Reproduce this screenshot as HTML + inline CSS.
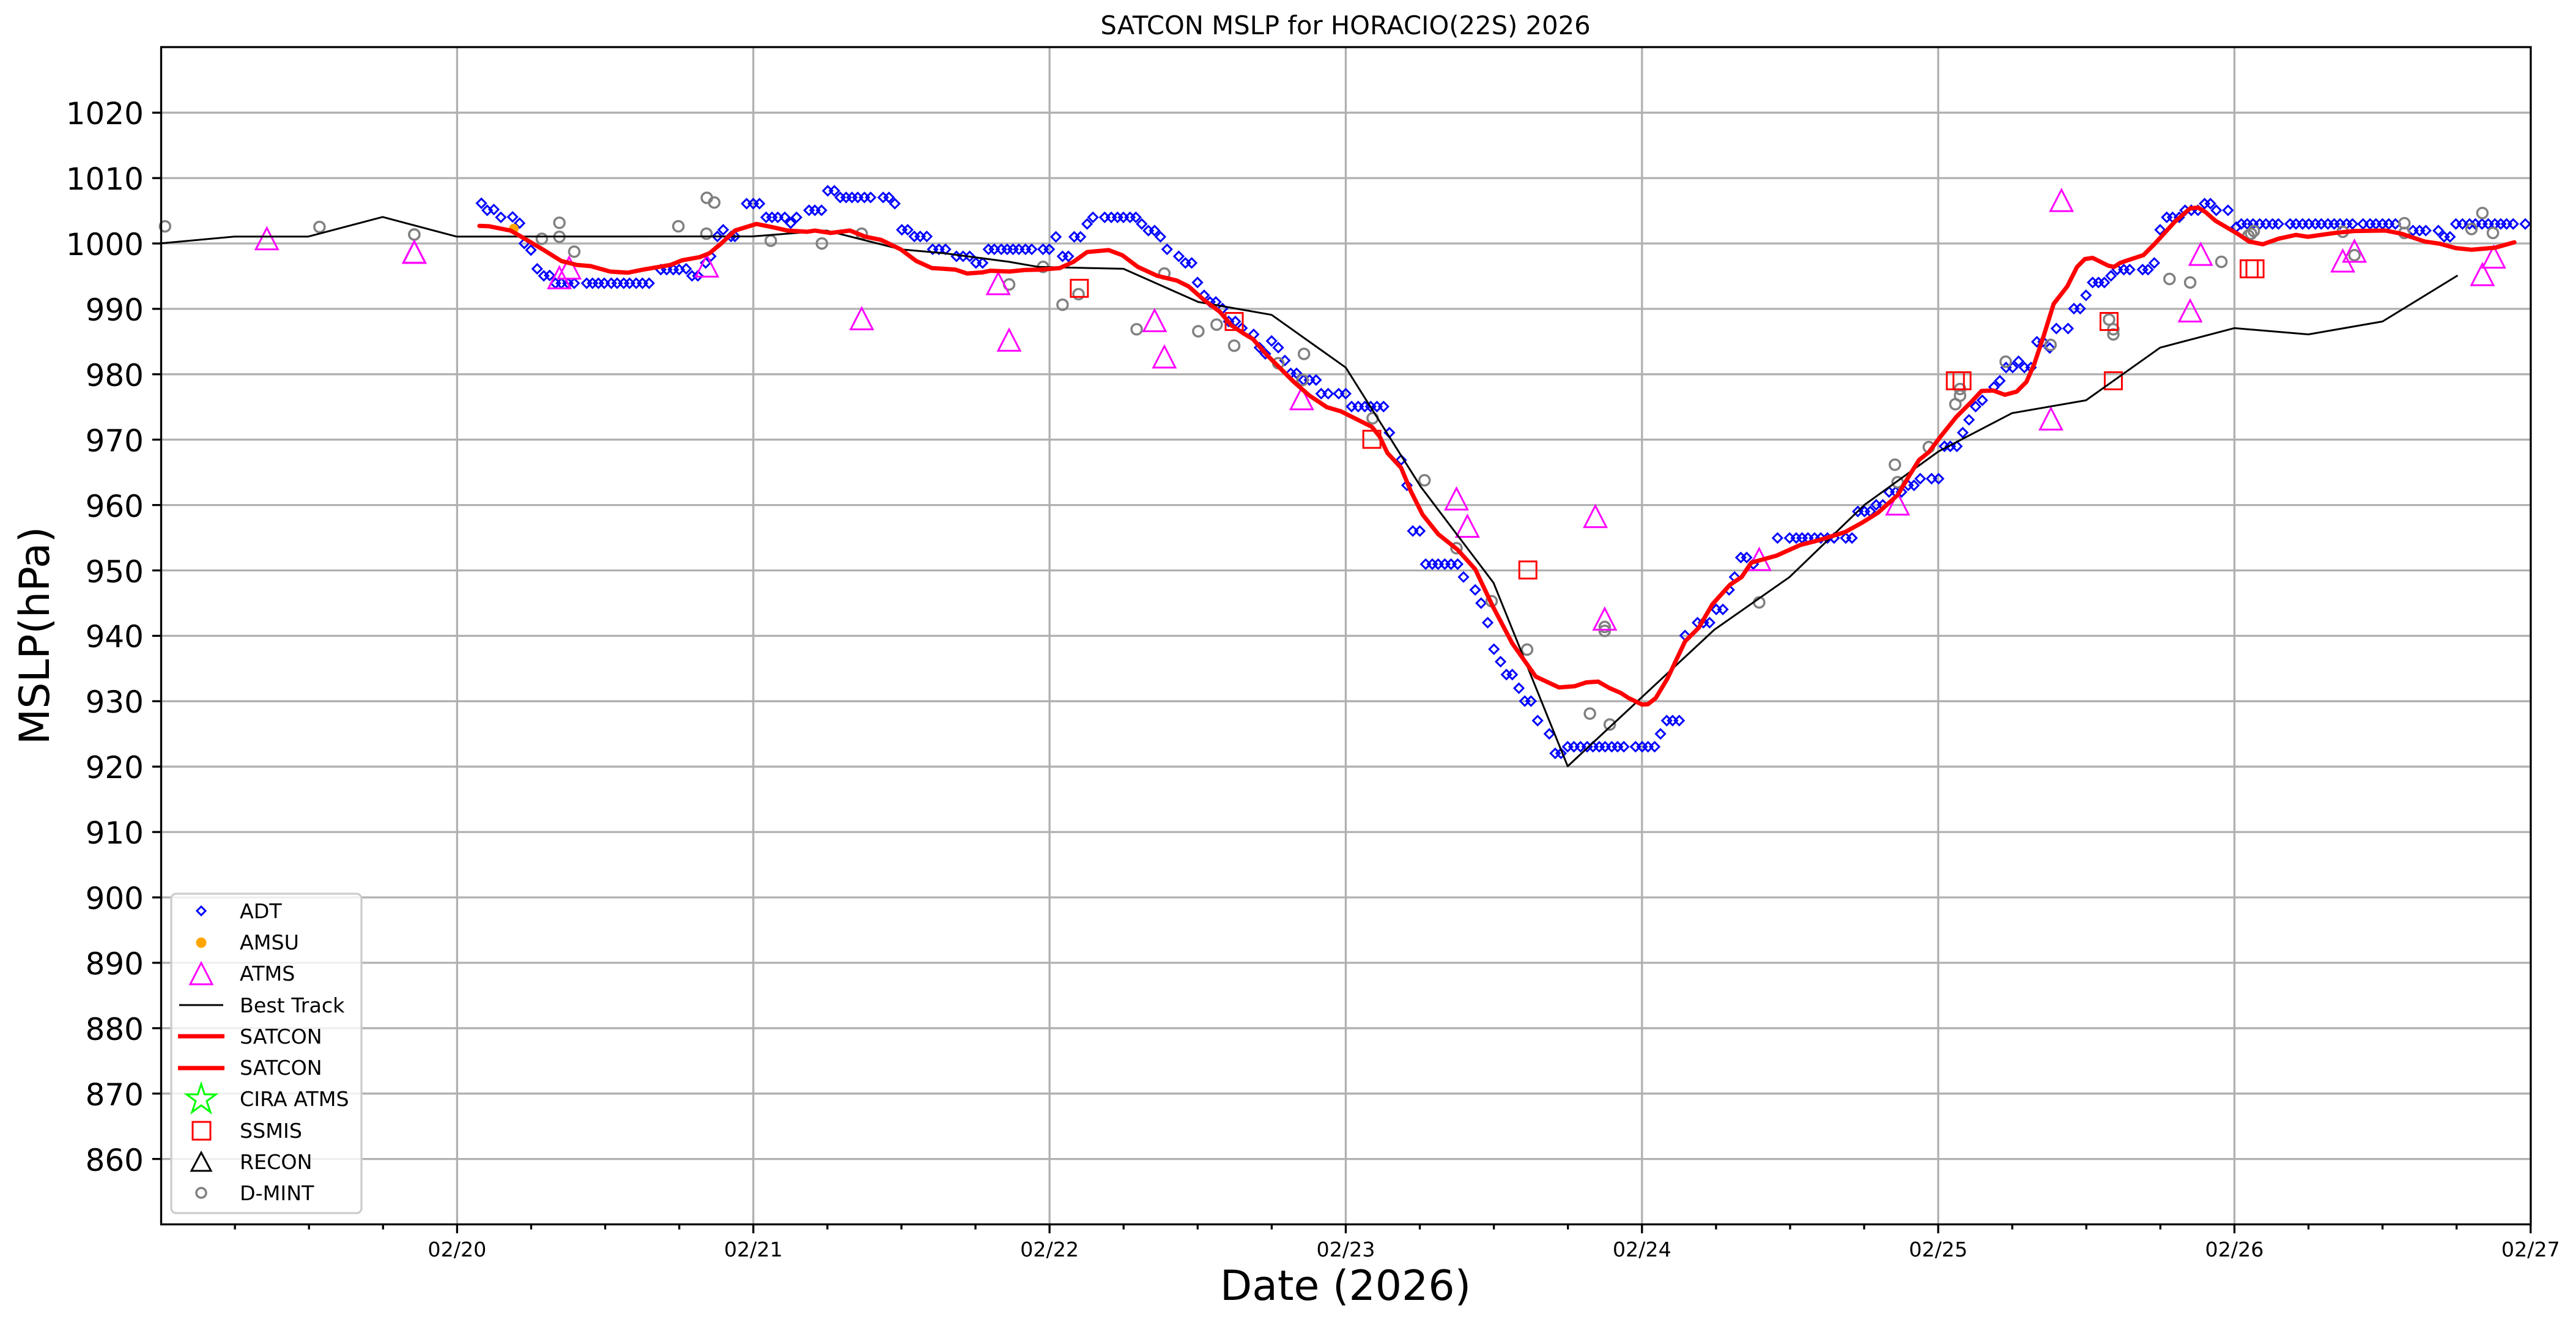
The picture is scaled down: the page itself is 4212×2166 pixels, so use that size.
<!DOCTYPE html>
<html><head><meta charset="utf-8"><style>
html,body{margin:0;padding:0;background:#fff;}
svg{display:block;font-family:"DejaVu Sans","Liberation Sans",sans-serif;}
</style></head><body>
<svg id="s" width="4212" height="2166" viewBox="0 0 4212 2166" xmlns="http://www.w3.org/2000/svg">
<rect width="4212" height="2166" fill="#fff"/>
<g id="grid" stroke="#b0b0b0" stroke-width="3.3"></g>
<g id="data"></g>
<rect x="263.5" y="77" width="3874.5" height="1924.5" fill="none" stroke="#000" stroke-width="3.3"/>
<g id="ticks" stroke="#000" stroke-width="3.3"></g>
<g font-size="50" text-anchor="end" fill="#000">
<text x="235" y="203">1020</text><text x="235" y="310">1010</text><text x="235" y="417">1000</text>
<text x="235" y="524">990</text><text x="235" y="631">980</text><text x="235" y="738">970</text>
<text x="235" y="845">960</text><text x="235" y="952">950</text><text x="235" y="1058">940</text>
<text x="235" y="1165">930</text><text x="235" y="1272">920</text><text x="235" y="1379">910</text>
<text x="235" y="1486">900</text><text x="235" y="1593">890</text><text x="235" y="1700">880</text>
<text x="235" y="1807">870</text><text x="235" y="1914">860</text>
</g>
<g font-size="33.3" text-anchor="middle" fill="#000">
<text x="747.4" y="2054">02/20</text><text x="1231.8" y="2054">02/21</text><text x="1716.1" y="2054">02/22</text>
<text x="2200.5" y="2054">02/23</text><text x="2684.8" y="2054">02/24</text><text x="3169.2" y="2054">02/25</text>
<text x="3653.5" y="2054">02/26</text><text x="4137.9" y="2054">02/27</text>
</g>
<text x="2200" y="56" font-size="41.7" text-anchor="middle">SATCON MSLP for HORACIO(22S) 2026</text>
<text x="2200" y="2125" font-size="68" text-anchor="middle">Date (2026)</text>
<text transform="translate(80,1039) rotate(-90)" font-size="68" text-anchor="middle">MSLP(hPa)</text>
<g id="legend">
<rect x="280" y="1461" width="311" height="522" rx="8" fill="#fff" fill-opacity="0.8" stroke="#cccccc" stroke-width="3.3"/>
<g font-size="33.3" fill="#000">
<text x="392" y="1501">ADT</text><text x="392" y="1552">AMSU</text><text x="392" y="1603">ATMS</text>
<text x="392" y="1655">Best Track</text><text x="392" y="1706">SATCON</text><text x="392" y="1757">SATCON</text>
<text x="392" y="1808">CIRA ATMS</text><text x="392" y="1860">SSMIS</text><text x="392" y="1911">RECON</text>
<text x="392" y="1962">D-MINT</text>
</g>
<path d="M329,1482 L336,1489 L329,1496 L322,1489 Z" fill="none" stroke="#0000ff" stroke-width="3"/>
<circle cx="329" cy="1541" r="8.5" fill="#ffa500"/>
<path d="M329,1574 L347,1609 L311,1609 Z" fill="none" stroke="#ff00ff" stroke-width="3"/>
<line x1="293" y1="1643" x2="365" y2="1643" stroke="#000" stroke-width="3"/>
<line x1="291" y1="1694" x2="367" y2="1694" stroke="#f00" stroke-width="7"/>
<line x1="291" y1="1746" x2="367" y2="1746" stroke="#f00" stroke-width="7"/>
<path d="M329,1772 L334.5,1789 L353,1789 L338,1800 L344,1818 L329,1807 L314,1818 L320,1800 L305,1789 L323.5,1789 Z" fill="none" stroke="#00ff00" stroke-width="3"/>
<rect x="315" y="1834" width="29" height="29" fill="none" stroke="#f00" stroke-width="3"/>
<path d="M329,1884 L345,1914 L313,1914 Z" fill="none" stroke="#000" stroke-width="3"/>
<circle cx="329" cy="1950" r="8" fill="none" stroke="#808080" stroke-width="3.5"/>
</g>
</svg>
<script>
(function(){
var NS="http://www.w3.org/2000/svg";
var grid=document.getElementById('grid'),ticks=document.getElementById('ticks'),data=document.getElementById('data');
function el(p,t,a){var e=document.createElementNS(NS,t);for(var k in a)e.setAttribute(k,a[k]);p.appendChild(e);return e;}
var L=263.5,R=4138,T=77,B=2001.5,DAY=484.35,X0=263.05;
for(var p=860;p<=1020;p+=10){var y=398-(p-1000)*10.69;el(grid,'line',{x1:L,x2:R,y1:y,y2:y});el(ticks,'line',{x1:L-14.6,x2:L,y1:y,y2:y});}
for(var d=1;d<=8;d++){var x=X0+d*DAY;if(d<8)el(grid,'line',{x1:x,x2:x,y1:T,y2:B});el(ticks,'line',{x1:x,x2:x,y1:B,y2:B+14.6});}
for(var q=1;q<32;q++){if(q%4==0)continue;var x=X0+q*DAY/4;el(ticks,'line',{x1:x,x2:x,y1:B,y2:B+8.3});}
function c1(a){return a.map(function(v){return [v[0]/1.742,v[1]/3];});}
function cz(ox,a){return a.map(function(v){return [ox+v[0]/1.568,280+v[1]/1.568];});}
function poly(pts,col,w){el(data,'polyline',{points:pts.map(function(v){return v[0].toFixed(1)+','+v[1].toFixed(1);}).join(' '),fill:'none',stroke:col,'stroke-width':w,'stroke-linejoin':'round','stroke-linecap':'round'});}
// Best track
var bt=[].concat(c1([[459,1193],[668,1160],[878,1160],[1090,1064],[1300,1160]]),
 cz(650,[[910,167],[1100,152],[1290,200],[1400,210],[1568,232]]),
 cz(1650,[[75,245],[293,250],[485,335],[673,368],[863,503],[1055,808],[1242,1055],[1432,1525]]),
 cz(2650,[[240,1175],[433,1040],[625,855],[815,718],[1003,620],[1193,587],[1383,452]]),
 cz(3212,[[692,402],[882,418],[1072,385],[1263,268]]));
// ADT
var adt=[].concat(cz(650,[[215,82],[230,100],[247,98],[265,118],[295,117],[313,133],[325,185],[342,202],[358,250],[375,268],[390,267],[405,287],[420,287],[437,287],[453,287],[485,287],[500,287],[515,287],[530,287],[548,287],[563,287],[580,287],[595,287],[612,287],[628,287],[645,287],[675,252],[690,252],[707,252],[722,252],[740,250],[755,268],[770,268],[790,235],[803,218],[820,167],[835,150],[855,167],[865,167],[895,83],[912,83],[928,83],[945,118],[960,118],[975,118],[993,118],[1008,133],[1023,118],[1055,100],[1070,100],[1087,100],[1103,50],[1120,50],[1135,67],[1150,67],[1165,67],[1180,67],[1197,67],[1213,67],[1245,67],[1260,67],[1275,83],[1293,150],[1308,150],[1325,167],[1340,167],[1357,167],[1372,200],[1388,200],[1405,200],[1433,218],[1450,218],[1467,218],[1483,235],[1500,235],[1515,200],[1530,200],[1548,200],[1563,200]]),
cz(1650,[[10,200],[25,200],[42,200],[58,200],[87,200],[103,200],[120,168],[137,218],[152,218],[167,168],[183,168],[200,135],[215,118],[245,118],[262,118],[278,118],[293,118],[310,118],[325,118],[340,135],[357,152],[373,152],[388,168],[405,200],[435,218],[452,235],[468,235],[483,285],[500,318],[515,335],[530,335],[547,352],[563,385],[580,385],[597,402],[627,418],[642,452],[657,468],[673,435],[690,452],[707,485],[722,518],[737,518],[755,535],[770,535],[787,535],[800,570],[818,570],[845,570],[863,570],[878,603],[895,603],[912,603],[927,603],[943,603],[960,603],[975,670],[1005,740],[1020,805],[1035,922],[1053,922],[1068,1007],[1085,1007],[1100,1007],[1117,1007],[1133,1007],[1150,1007],[1165,1040],[1195,1073],[1210,1107],[1227,1157],[1243,1225],[1260,1257],[1275,1290],[1290,1290],[1307,1325],[1322,1358],[1338,1358],[1355,1408],[1385,1442],[1400,1492],[1415,1492],[1432,1475],[1448,1475],[1465,1475],[1482,1475],[1497,1475],[1513,1475],[1528,1475],[1545,1475],[1560,1475]]),
cz(2650,[[8,1475],[38,1475],[55,1475],[70,1475],[87,1475],[102,1442],[118,1408],[133,1408],[150,1408],[165,1190],[197,1157],[212,1157],[228,1157],[245,1123],[262,1123],[278,1073],[292,1040],[308,990],[323,990],[340,1007],[402,940],[433,940],[450,940],[465,940],[480,940],[497,940],[513,940],[530,940],[547,940],[577,940],[593,940],[608,872],[625,872],[640,872],[655,855],[672,855],[688,822],[705,822],[720,822],[737,805],[752,805],[768,788],[797,788],[815,788],[830,705],[845,705],[862,705],[877,670],[893,637],[910,603],[927,587],[957,553],[972,537],[988,503],[1005,503],[1020,487],[1035,503],[1052,503],[1067,437],[1083,437],[1100,453],[1117,403],[1147,403],[1162,352],[1178,352],[1193,318],[1210,285],[1225,285],[1240,285],[1257,268],[1273,252],[1290,252],[1305,252],[1338,252],[1352,252],[1368,235],[1383,150],[1400,118],[1415,118],[1432,118],[1447,100],[1463,100],[1480,100],[1497,83],[1512,83],[1527,100],[1557,100]]),
cz(3212,[[697,143],[710,135],[725,135],[740,135],[757,135],[773,135],[790,135],[805,135],[835,135],[850,135],[867,135],[883,135],[900,135],[915,135],[932,135],[948,135],[963,135],[980,135],[995,135],[1022,135],[1040,135],[1055,135],[1072,135],[1088,135],[1105,135],[1150,152],[1167,152],[1183,152],[1215,152],[1230,168],[1245,168],[1260,135],[1277,135],[1295,135],[1310,135],[1327,135],[1343,135],[1360,135],[1375,135],[1390,135],[1407,135],[1438,135]]));
adt.forEach(function(v){var x=v[0],y=v[1],r=7.5;el(data,'path',{d:'M'+x+','+(y-r)+'L'+(x+r)+','+y+'L'+x+','+(y+r)+'L'+(x-r)+','+y+'Z',fill:'none',stroke:'#0000ff','stroke-width':3});});
// D-MINT
var dm=[].concat(c1([[470,1110],[910,1113],[1180,1150]]),
cz(650,[[43,162],[370,173],[415,132],[415,168],[453,206],[720,141],[793,68],[812,80],[792,160],[957,178],[1088,185],[1190,160],[1568,290]]),
cz(1650,[[87,245],[137,342],[178,315],[327,405],[398,262],[485,410],[532,393],[577,447],[690,492],[756,468],[752,535],[932,633],[1065,792],[1147,966],[1237,1102],[1328,1226],[1489,1390],[1540,1418],[1527,1168],[1527,1178]]),
cz(2650,[[355,1105],[703,752],[710,797],[790,707],[858,597],[870,575],[870,558],[987,488],[1102,445],[1252,380],[1263,405],[1263,418],[1407,276],[1460,285],[1540,232]]),
cz(3212,[[728,165],[735,160],[742,153],[970,155],[1000,215],[1128,133],[1128,158],[1300,148],[1328,107],[1355,158]]));
dm.forEach(function(v){el(data,'circle',{cx:v[0],cy:v[1],r:8.5,fill:'none',stroke:'#808080','stroke-width':3.5});});
// ATMS
var at=[].concat(c1([[760,1175],[1180,1240]]),
cz(650,[[43,210],[415,275],[440,250],[793,245],[1190,380],[1540,290],[1568,435]]),
cz(1650,[[373,385],[398,478],[750,585],[1147,842],[1175,912],[1503,887],[1527,1150]]),
cz(2650,[[355,997],[710,855],[1130,77],[1103,637],[1487,215],[1460,360]]),
cz(3212,[[970,232],[1000,207],[1357,222],[1328,267]]));
at.forEach(function(v){var x=v[0],y=v[1];el(data,'path',{d:'M'+x+','+(y-19)+'L'+(x+18)+','+(y+16)+'L'+(x-18)+','+(y+16)+'Z',fill:'none',stroke:'#ff00ff','stroke-width':3});});
// SSMIS
var ss=[].concat(cz(1650,[[180,300],[577,385],[930,687],[1330,1022]]),cz(2650,[[858,537],[875,537],[1252,385],[1263,537]]),cz(3212,[[730,250],[745,250]]));
ss.forEach(function(v){el(data,'rect',{x:v[0]-14,y:v[1]-14,width:28,height:28,fill:'none',stroke:'#ff0000','stroke-width':3});});
// AMSU
var am=cz(650,[[298,147]]);el(data,'circle',{cx:am[0][0],cy:am[0][1],r:8,fill:'#ffa500'});
poly(bt,'#000',3);
// SATCON
var sc=[].concat(cz(650,[[210,140],[235,141],[290,152],[330,175],[380,205],[420,230],[460,240],[495,243],[545,257],[590,260],[630,252],[700,240],[730,228],[775,220],[800,210],[830,185],[865,152],[920,135],[960,143],[1000,152],[1050,155],[1070,152],[1110,158],[1160,152],[1200,168],[1240,176],[1290,200],[1330,230],[1370,248],[1400,250],[1430,252],[1460,262],[1500,259],[1520,255]]),
cz(1650,[[0,257],[40,253],[80,252],[130,248],[165,232],[200,207],[255,202],[290,215],[330,245],[380,268],[430,280],[460,295],[500,330],[540,360],[570,395],[600,415],[625,430],[660,470],[690,500],[730,540],[770,575],[815,605],[850,615],[880,630],[930,655],[950,680],[970,722],[1005,760],[1030,820],[1060,880],[1100,930],[1150,970],[1195,1020],[1240,1115],[1290,1210],[1350,1295],[1410,1323],[1450,1320],[1480,1310],[1510,1308],[1540,1325]]),
cz(2650,[[0,1337],[20,1350],[55,1367],[70,1366],[90,1350],[120,1300],[165,1205],[200,1170],[235,1110],[280,1060],[310,1040],[335,1003],[400,985],[460,958],[510,945],[575,925],[620,900],[660,875],[710,830],[740,780],[765,740],[790,720],[820,680],[860,630],[900,590],[925,563],[955,562],[985,573],[1015,565],[1040,540],[1060,495],[1085,420],[1110,340],[1145,295],[1170,245],[1190,225],[1210,222],[1250,242],[1265,245],[1280,235],[1300,228],[1340,215],[1370,185],[1420,130],[1460,95],[1480,93],[1500,105],[1525,127]]),
cz(3212,[[700,160],[730,180],[765,187],[805,173],[850,163],[880,168],[950,158],[1000,153],[1080,152],[1120,160],[1180,180],[1220,186],[1260,197],[1300,201],[1360,196],[1410,182]]));
poly(sc,'#ff0000',7);
})();
</script>
</body></html>
